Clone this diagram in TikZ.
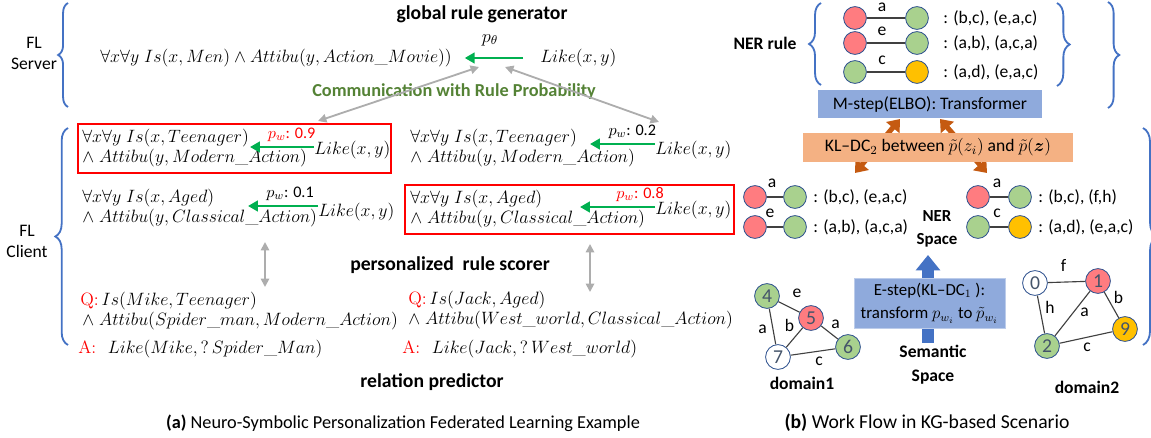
\RequirePackage{fix-cm}
\documentclass[tikz,border=0pt]{standalone}
\usepackage{fontspec}
\setsansfont{Carlito}
\usepackage{amsmath}
\usetikzlibrary{arrows.meta,decorations.pathreplacing}

\definecolor{braceblue}{HTML}{4472C4}
\definecolor{arrgreen}{HTML}{00B050}
\definecolor{commgreen}{HTML}{548235}
\definecolor{arrgray}{HTML}{ADADAD}
\definecolor{boxblue}{HTML}{8FAADC}
\definecolor{boxorange}{HTML}{F4B183}
\definecolor{arrbrown}{HTML}{C55A11}
\definecolor{nodered}{HTML}{FF7C80}
\definecolor{nodegreen}{HTML}{A9D18E}
\definecolor{nodeorange}{HTML}{FFC000}
\definecolor{circline}{HTML}{2F528F}
\definecolor{numgray}{HTML}{44546A}

\tikzset{
  fml/.style={anchor=west, inner sep=0pt, align=left, font=\fontsize{12.7}{14.2}\selectfont},
  head/.style={inner sep=0pt, font=\sffamily\bfseries\fontsize{14}{16}\selectfont},
  txt/.style={inner sep=0pt, font=\sffamily\fontsize{12.5}{15}\selectfont},
  capt/.style={inner sep=0pt, font=\sffamily\fontsize{13}{15}\selectfont},
  pw/.style={inner sep=0pt, font=\sffamily\fontsize{11.5}{13}\selectfont},
  elab/.style={inner sep=0pt, font=\sffamily\fontsize{12.5}{15}\selectfont},
  brc/.style={draw=braceblue, line width=1.3pt, decorate, decoration={brace, amplitude=#1}},
  brc/.default=7pt,
  garrow/.style={draw=arrgreen, line width=2pt, -{Triangle[length=7pt,width=7.5pt]}},
  gdouble/.style={draw=arrgray, line width=1.3pt, {Triangle[length=6pt,width=6pt]}-{Triangle[length=6pt,width=6pt]}},
  barrow/.style={draw=arrbrown, line width=3.6pt, {Triangle[length=8pt,width=12pt]}-{Triangle[length=8pt,width=12pt]}},
  redbox/.style={draw=red, line width=1pt},
  ent/.style={circle, draw=circline, line width=0.6pt, minimum size=0.57cm, inner sep=0pt},
  entr/.style={ent, fill=nodered},
  entg/.style={ent, fill=nodegreen},
  ento/.style={ent, fill=nodeorange},
  dom/.style={circle, draw=circline, line width=0.6pt, minimum size=0.62cm, inner sep=0pt,
    text=numgray, font=\sffamily\fontsize{14}{16}\selectfont},
  rel/.style={draw=black!75, line width=0.8pt},
}

\begin{document}
\begin{tikzpicture}[x=0.025cm, y=-0.025cm]
  \useasboundingbox (0,0) rectangle (1151,438);

  % ----- (a) FL server
  \node[txt, align=center] (srv) at (34,53) {FL\\Server};
  \draw[brc] (68,107) -- (68,3);
  \node[head] (grg) at (482,14) {global rule generator};
  \node[fml] (gbody) at (100,58) {$\forall x\forall y\; Is(x,Men)\wedge Attibu(y,Action\_Movie))$};
  \node[fml] (ghead) at (540,58) {$Like(x,y)$};
  \node[inner sep=0pt, font=\fontsize{13}{14}\selectfont] (ptheta) at (490,40) {$p_\theta$};
  \draw[garrow, shorten <=12pt, shorten >=9pt] (ghead.west) -- (gbody.east);
  \node[head, text=commgreen, font=\sffamily\bfseries\fontsize{13}{15}\selectfont] (comm) at (454,92) {Communication with Rule Probability};

  % communication with the clients
  \coordinate (sL) at (479,67);
  \coordinate (sR) at (505,67);
  \coordinate (cL) at (318,121);
  \coordinate (cR) at (659,122);
  \draw[gdouble] (cL) -- (sL);
  \draw[gdouble] (cR) -- (sR);

  % ----- (a) FL client
  \node[txt, align=center] (cli) at (27,241) {FL\\Client};
  \draw[brc=9pt] (68,345) -- (68,128);

  % rule 1 (chosen)
  \draw[redbox] (78,124) rectangle (391,173);
  \node[fml] (r1) at (82,148) {$\forall x\forall y\; Is(x,Teenager)$\\$\wedge\; Attibu(y,Modern\_Action)$};
  \node[fml] (l1) at (314,150) {$Like(x,y)$};
  \coordinate (t1) at (250,147);
  \draw[garrow] (l1.west |- t1) -- (t1) node[pw, pos=0.35, above=3pt, text=red] {$p_w$: 0.9};

  % rule 2
  \node[fml] (r2) at (410,148) {$\forall x\forall y\; Is(x,Teenager)$\\$\wedge\; Attibu(y,Modern\_Action)$};
  \node[fml] (l2) at (655,150) {$Like(x,y)$};
  \coordinate (t2) at (590,144);
  \draw[garrow] (l2.west |- t2) -- (t2) node[pw, pos=0.35, above=3pt] {$p_w$: 0.2};

  % rule 3
  \node[fml] (r3) at (82,208) {$\forall x\forall y\; Is(x,Aged)$\\$\wedge\; Attibu(y,Classical\_Action)$};
  \node[fml] (l3) at (318,212) {$Like(x,y)$};
  \coordinate (t3) at (248,206);
  \draw[garrow] (l3.west |- t3) -- (t3) node[pw, pos=0.4, above=3pt] {$p_w$: 0.1};

  % rule 4 (chosen)
  \draw[redbox] (405,185) rectangle (734,234);
  \node[fml] (r4) at (410,209) {$\forall x\forall y\; Is(x,Aged)$\\$\wedge\; Attibu(y,Classical\_Action)$};
  \node[fml] (l4) at (655,210) {$Like(x,y)$};
  \coordinate (t4) at (580,207);
  \draw[garrow] (l4.west |- t4) -- (t4) node[pw, pos=0.2, above=3pt, text=red] {$p_w$: 0.8};

  % rule scorer
  \node[head] (scorer) at (450,265) {personalized\ \ rule scorer};
  \coordinate (v1a) at (265,242);
  \coordinate (v1b) at (265,287);
  \coordinate (v2a) at (590,244);
  \coordinate (v2b) at (590,292);
  \draw[gdouble] (v1a) -- (v1b);
  \draw[gdouble] (v2a) -- (v2b);

  % queries and answers
  \node[fml] (q1) at (80,301) {\textcolor{red}{Q:}\,$Is(Mike,Teenager)$};
  \node[fml] (q1b) at (82,321) {$\wedge\; Attibu(Spider\_man,Modern\_Action)$};
  \node[fml] (a1) at (78,349) {\textcolor{red}{A:}\ \ $Like(Mike,?\,Spider\_Man)$};
  \node[fml] (q2) at (408,300) {\textcolor{red}{Q:}\,$Is(Jack,Aged)$};
  \node[fml] (q2b) at (408,320) {$\wedge\; Attibu(West\_world,Classical\_Action)$};
  \node[fml] (a2) at (402,349) {\textcolor{red}{A:}\ \ $Like(Jack,?\,West\_world)$};
  \node[head] (pred) at (432,382) {relation predictor};

  \node[capt] (capa) at (403,423) {\textbf{(a)} Neuro-Symbolic Personalization Federated Learning Example};

  % ----- (b) NER rule
  \node[head, font=\sffamily\bfseries\fontsize{12.5}{15}\selectfont] (nerrule) at (765,43) {NER rule};
  \draw[brc=8.5pt] (821,85) -- (821,3);
  \draw[brc=9pt] (1057,3) -- (1057,86);
  \draw[brc=8pt] (1108,2) -- (1108,108);

  \node[entr] (n1a) at (855,18) {};
  \node[entg] (n1b) at (917,18) {};
  \draw[rel] (n1a) -- (n1b) node[elab, midway, shift={(-4,-11)}] {a};
  \node[txt, anchor=west] (n1t) at (943,18) {: (b,c), (e,a,c)};
  \node[entr] (n2a) at (855,43) {};
  \node[entg] (n2b) at (917,43) {};
  \draw[rel] (n2a) -- (n2b) node[elab, midway, shift={(-4,-12)}] {e};
  \node[txt, anchor=west] (n2t) at (943,43) {: (a,b), (a,c,a)};
  \node[entg] (n3a) at (855,72) {};
  \node[ento] (n3b) at (917,72) {};
  \draw[rel] (n3a) -- (n3b) node[elab, midway, shift={(-4,-12)}] {c};
  \node[txt, anchor=west] (n3t) at (943,72) {: (a,d), (e,a,c)};

  % M-step and KL-DC2
  \node[fill=boxblue, minimum width=5.6cm, minimum height=0.7cm, inner sep=0pt, txt] (mstep) at (930,104) {M-step(ELBO): Transformer};
  \coordinate (m1) at (900,119);
  \coordinate (m2) at (940,119);
  \coordinate (k1) at (855,173);
  \coordinate (k2) at (987,173);
  \draw[barrow] (m1) -- (k1);
  \draw[barrow] (m2) -- (k2);
  \node[fill=boxorange, minimum width=6.75cm, minimum height=0.725cm, inner sep=0pt, txt] (kl) at (938,147.5)
    {KL--DC$_2$ between $\tilde{p}(z_i)$ and $\tilde{p}(\boldsymbol{z})$};

  % NER space
  \node[entr] (s1a) at (755,197) {};
  \node[entg] (s1b) at (795,197) {};
  \draw[rel] (s1a) -- (s1b) node[elab, midway, shift={(-3,-14)}] {a};
  \node[txt, anchor=west] (s1t) at (813,197) {: (b,c), (e,a,c)};
  \node[entr] (s2a) at (755,227) {};
  \node[entg] (s2b) at (795,227) {};
  \draw[rel] (s2a) -- (s2b) node[elab, midway, shift={(-5,-14)}] {e};
  \node[txt, anchor=west] (s2t) at (813,227) {: (a,b), (a,c,a)};
  \node[entr] (s3a) at (978,197) {};
  \node[entg] (s3b) at (1020,197) {};
  \draw[rel] (s3a) -- (s3b) node[elab, midway, shift={(-2,-14)}] {a};
  \node[txt, anchor=west] (s3t) at (1038,197) {: (b,c), (f,h)};
  \node[entg] (s4a) at (978,227) {};
  \node[ento] (s4b) at (1020,227) {};
  \draw[rel] (s4a) -- (s4b) node[elab, midway, shift={(-2,-14)}] {c};
  \node[txt, anchor=west] (s4t) at (1038,227) {: (a,d), (e,a,c)};
  \node[head, align=center, font=\sffamily\bfseries\fontsize{12}{16}\selectfont] (nerspace) at (937,229) {NER\\Space};

  % E-step
  \node[head, align=center, font=\sffamily\bfseries\fontsize{12.5}{17}\selectfont] (sem) at (933,365) {Semantic\\Space};
  \coordinate (e1) at (928,343);
  \coordinate (e2) at (928,255);
  \draw[draw=braceblue, line width=8.5pt, -{Triangle[length=11pt,width=17pt]}] (e1) -- (e2);
  \node[fill=boxblue, draw=boxblue!60, minimum width=3.775cm, minimum height=1.25cm, inner sep=0pt, txt, align=center,
    font=\sffamily\fontsize{12}{17}\selectfont] (estep) at (929.5,303)
    {E-step(KL--DC$_1$ ):\\transform $p_{w_i}$ to $\tilde{p}_{w_i}$};

  % domain 1
  \node[dom, fill=nodegreen] (d4) at (767,296) {4};
  \node[dom, fill=nodered] (d5) at (811,318) {5};
  \node[dom, fill=nodegreen] (d6) at (848,347) {6};
  \node[dom, fill=white] (d7) at (778,357) {7};
  \draw[rel] (d4) -- (d5) node[elab, midway, shift={(8,-14)}] {e};
  \draw[rel] (d4) -- (d7) node[elab, midway, shift={(-10,3)}] {a};
  \draw[rel] (d5) -- (d7) node[elab, midway, shift={(-5,-12)}] {b};
  \draw[rel] (d5) -- (d6) node[elab, midway, shift={(6,-8)}] {a};
  \draw[rel] (d7) -- (d6) node[elab, midway, shift={(6,9)}] {c};
  \node[head, font=\sffamily\bfseries\fontsize{12.5}{14}\selectfont] (dom1) at (802,383) {domain1};

  % domain 2
  \node[dom, fill=white] (d0) at (1035,283) {0};
  \node[dom, fill=nodered] (d1) at (1098,281) {1};
  \node[dom, fill=nodeorange] (d9) at (1125,329) {9};
  \node[dom, fill=nodegreen] (d2) at (1047,346) {2};
  \draw[rel] (d0) -- (d1) node[elab, midway, shift={(-3,-17)}] {f};
  \draw[rel] (d0) -- (d2) node[elab, midway, shift={(9,-7)}] {h};
  \draw[rel] (d1) -- (d2) node[elab, midway, shift={(12,-1)}] {a};
  \draw[rel] (d1) -- (d9) node[elab, midway, shift={(7,-8)}] {b};
  \draw[rel] (d2) -- (d9) node[elab, midway, shift={(1,10)}] {c};
  \node[head, font=\sffamily\bfseries\fontsize{12.5}{14}\selectfont] (dom2) at (1087,387) {domain2};

  % client brace on the right, cut by the page edge
  \draw[brc=10pt] (1143,128) -- (1143,345);

  \node[capt, font=\sffamily\fontsize{14}{16}\selectfont] (capb) at (927,423) {\textbf{(b)} Work Flow in KG-based Scenario};
\end{tikzpicture}
\end{document}
